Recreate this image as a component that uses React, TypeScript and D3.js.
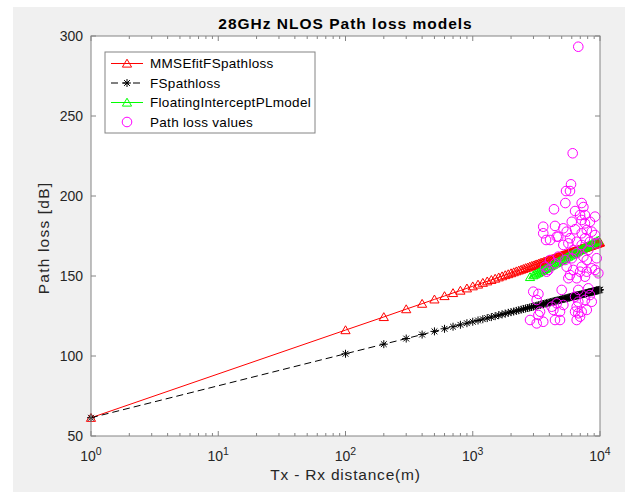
import React from "react";
import * as d3 from "d3";

// ---------- data ----------
const modelDist = [
  1, 100, 200, 300, 400, 500, 600, 700, 800, 900, 1000,
  1100, 1200, 1300, 1400, 1500, 1600, 1700, 1800, 1900, 2000,
  2100, 2200, 2300, 2400, 2500, 2600, 2700, 2800, 2900, 3000,
  3100, 3200, 3300, 3400, 3500, 3600, 3700, 3800, 3900, 4000,
  4100, 4200, 4300, 4400, 4500, 4600, 4700, 4800, 4900, 5000,
  5100, 5200, 5300, 5400, 5500, 5600, 5700, 5800, 5900, 6000,
  6100, 6200, 6300, 6400, 6500, 6600, 6700, 6800, 6900, 7000,
  7100, 7200, 7300, 7400, 7500, 7600, 7700, 7800, 7900, 8000,
  8100, 8200, 8300, 8400, 8500, 8600, 8700, 8800, 8900, 9000,
  9100, 9200, 9300, 9400, 9500, 9600, 9700, 9800, 9900, 10000,
];

const mmseFitPL = [
  61.4, 116.2, 124.4, 129.3, 132.7, 135.4, 137.5, 139.4, 140.9, 142.3, 143.6,
  144.7, 145.8, 146.7, 147.6, 148.4, 149.2, 149.9, 150.6, 151.2, 151.8,
  152.4, 153.0, 153.5, 154.0, 154.5, 155.0, 155.4, 155.9, 156.3, 156.7,
  157.1, 157.4, 157.8, 158.2, 158.5, 158.8, 159.2, 159.5, 159.8, 160.1,
  160.4, 160.7, 161.0, 161.2, 161.5, 161.8, 162.0, 162.3, 162.5, 162.8,
  163.0, 163.2, 163.4, 163.7, 163.9, 164.1, 164.3, 164.5, 164.7, 164.9,
  165.1, 165.3, 165.5, 165.7, 165.9, 166.1, 166.2, 166.4, 166.6, 166.8,
  166.9, 167.1, 167.3, 167.4, 167.6, 167.7, 167.9, 168.0, 168.2, 168.3,
  168.5, 168.6, 168.8, 168.9, 169.1, 169.2, 169.3, 169.5, 169.6, 169.7,
  169.9, 170.0, 170.1, 170.3, 170.4, 170.5, 170.6, 170.8, 170.9, 171.0,
];

const fsPL = [
  61.4, 101.4, 107.4, 110.9, 113.4, 115.4, 117.0, 118.3, 119.5, 120.5, 121.4,
  122.2, 123.0, 123.7, 124.3, 124.9, 125.5, 126.0, 126.5, 127.0, 127.4,
  127.8, 128.2, 128.6, 129.0, 129.4, 129.7, 130.0, 130.3, 130.6, 130.9,
  131.2, 131.5, 131.8, 132.0, 132.3, 132.5, 132.8, 133.0, 133.2, 133.4,
  133.7, 133.9, 134.1, 134.3, 134.5, 134.7, 134.8, 135.0, 135.2, 135.4,
  135.6, 135.7, 135.9, 136.0, 136.2, 136.4, 136.5, 136.7, 136.8, 137.0,
  137.1, 137.2, 137.4, 137.5, 137.7, 137.8, 137.9, 138.1, 138.2, 138.3,
  138.4, 138.5, 138.7, 138.8, 138.9, 139.0, 139.1, 139.2, 139.4, 139.5,
  139.6, 139.7, 139.8, 139.9, 140.0, 140.1, 140.2, 140.3, 140.4, 140.5,
  140.6, 140.7, 140.8, 140.9, 141.0, 141.0, 141.1, 141.2, 141.3, 141.4,
];

const fiDist = [
  2820, 2990, 3080, 3180, 3280, 3380, 3480, 3580, 3700, 3810, 3930,
  4050, 4170, 4300, 4430, 4570, 4700, 4850, 5000, 5150, 5310, 5470,
  5640, 5810, 6000, 6170, 6370, 6560, 6750, 6970, 7180, 7400, 7620,
  7870, 8090, 8340, 8610, 8850, 9140, 9420, 9700,
];
const fiPL = [
  149.4, 150.5, 151.0, 151.6, 152.1, 152.7, 153.3, 153.8, 154.4, 155.0, 155.5,
  156.1, 156.6, 157.2, 157.8, 158.3, 158.9, 159.5, 160.0, 160.6, 161.1, 161.7,
  162.2, 162.8, 163.4, 163.9, 164.5, 165.1, 165.6, 166.2, 166.7, 167.3, 167.9,
  168.4, 169.0, 169.5, 170.1, 170.6, 171.2, 171.8, 172.3,
];

const measDist = [
  6750, 6100, 5920, 5410, 5810, 5340, 4350, 7180, 7400, 6370, 6970, 7620,
  9140, 6000, 7180, 7620, 8340, 3580, 4430, 3580, 3770, 5150, 5470, 6370,
  7870, 7180, 8610, 9140, 4050, 4570, 5810, 5640, 6560, 7180, 7620, 8340,
  9420, 5150, 6170, 6560, 4700, 5310, 6000, 4050, 4430, 3700, 3930, 7870,
  7180, 8610, 6170, 6970, 7870, 9140, 5810, 6560, 7620, 5470, 3810, 5640,
  9700, 2990, 3280, 3180, 5000, 6750, 8090, 8340, 7620, 8610, 6750, 6370,
  4170, 4570, 5150, 4850, 4300, 3380, 3280, 6560, 7870, 6750, 7180, 6370,
  6970, 2820, 3180, 3580, 4430, 4850, 6560, 4700, 8090, 7400, 9420,
];
const measPL = [
  293.3, 226.7, 207.3, 203.1, 203.1, 195.6, 191.7, 195.6, 193.1, 190.6, 188.1, 188.1,
  187.1, 183.9, 185.0, 182.9, 183.9, 180.8, 181.3, 176.7, 172.5, 179.8, 177.7, 179.2,
  178.8, 176.7, 177.7, 175.6, 172.5, 174.6, 173.6, 170.4, 171.4, 169.4, 173.6, 171.4,
  170.4, 169.4, 166.3, 164.2, 162.1, 160.0, 161.1, 160.0, 157.9, 155.8, 153.8, 160.0,
  155.8, 154.8, 153.8, 152.7, 152.7, 153.8, 150.6, 148.6, 149.6, 155.8, 152.7, 148.6,
  151.7, 140.2, 138.8, 135.0, 141.3, 141.3, 142.3, 138.1, 135.0, 133.9, 133.9, 137.1,
  130.8, 132.9, 131.9, 127.7, 128.8, 127.7, 125.6, 130.8, 128.8, 126.7, 127.7, 127.7,
  124.6, 122.5, 120.4, 121.4, 122.5, 122.5, 122.5, 174.6, 166.3, 162.1, 161.1,
];

const yTicks = [50, 100, 150, 200, 250, 300];
const xDecades = [0, 1, 2, 3, 4];
const legendLabels = [
  "MMSEfitFSpathloss",
  "FSpathloss",
  "FloatingInterceptPLmodel",
  "Path loss values",
];
const titleText = "28GHz NLOS Path loss models";
const xLabelText = "Tx - Rx distance(m)";
const yLabelText = "Path loss [dB]";

// ---------- layout ----------
const W = 632;
const H = 492;
const L = 91;
const R = 600;
const T = 36;
const B = 436;
const FONT = "'Liberation Sans', Arial, Helvetica, sans-serif";
const AX = "#848484";
const TXT = "#262626";

const triPath = "M0,-4.3 L4.6,3.6 L-4.6,3.6 Z";
const starPath = "M-4,0 H4 M0,-4 V4 M-2.9,-2.9 L2.9,2.9 M-2.9,2.9 L2.9,-2.9";

export default function App() {
  const x = d3.scaleLog().domain([1, 1e4]).range([L, R]);
  const y = d3.scaleLinear().domain([50, 300]).range([B, T]);

  const line = d3
    .line<[number, number]>()
    .x((d) => x(d[0]))
    .y((d) => y(d[1]));

  const mmse = modelDist.map((d, i) => [d, mmseFitPL[i]] as [number, number]);
  const fs = modelDist.map((d, i) => [d, fsPL[i]] as [number, number]);
  const fi = fiDist.map((d, i) => [d, fiPL[i]] as [number, number]);
  const meas = measDist.map((d, i) => [d, measPL[i]] as [number, number]);

  const minorTicks: number[] = [];
  for (let e = 0; e < 4; e++) {
    for (let m = 2; m <= 9; m++) minorTicks.push(m * Math.pow(10, e));
  }

  const legX = 105;
  const legY = 52;
  const legW = 210;
  const legH = 81;
  const rowY = [63.5, 83, 102.5, 122];

  return (
    <svg
      width={W}
      height={H}
      style={{ position: "absolute", left: 0, top: 0, display: "block" }}
      fontFamily={FONT}
    >
      <rect x={0} y={0} width={W} height={H} fill="#ffffff" />
      <rect x={13} y={7} width={612} height={H - 7} fill="#f0f0f0" />
      <rect x={L} y={T} width={R - L} height={B - T} fill="#ffffff" />

      {/* model lines */}
      <path d={line(mmse) || ""} fill="none" stroke="#ff0000" strokeWidth={1} />
      <path
        d={line(fs) || ""}
        fill="none"
        stroke="#000000"
        strokeWidth={1}
        strokeDasharray="7,4"
      />
      <path d={line(fi) || ""} fill="none" stroke="#00ff00" strokeWidth={1} />

      {mmse.map((p, i) => (
        <path
          key={"r" + i}
          d={triPath}
          transform={`translate(${x(p[0])},${y(p[1])})`}
          fill="none"
          stroke="#ff0000"
          strokeWidth={1}
        />
      ))}
      {fs.map((p, i) => (
        <path
          key={"k" + i}
          d={starPath}
          transform={`translate(${x(p[0])},${y(p[1])})`}
          fill="none"
          stroke="#000000"
          strokeWidth={1}
        />
      ))}
      {fi.map((p, i) => (
        <path
          key={"g" + i}
          d={triPath}
          transform={`translate(${x(p[0])},${y(p[1])})`}
          fill="none"
          stroke="#00ff00"
          strokeWidth={1}
        />
      ))}
      {meas.map((p, i) => (
        <circle
          key={"m" + i}
          cx={x(p[0])}
          cy={y(p[1])}
          r={4.8}
          fill="none"
          stroke="#ff00ff"
          strokeWidth={1}
        />
      ))}

      {/* axes box */}
      <rect
        x={L}
        y={T}
        width={R - L}
        height={B - T}
        fill="none"
        stroke={AX}
        strokeWidth={1}
      />

      {/* x ticks */}
      {xDecades.map((e) => {
        const xv = x(Math.pow(10, e));
        return (
          <g key={"xt" + e}>
            <line x1={xv} x2={xv} y1={B} y2={B - 5} stroke={AX} />
            <line x1={xv} x2={xv} y1={T} y2={T + 5} stroke={AX} />
            <text
              x={xv}
              y={461}
              textAnchor="middle"
              fontSize={14}
              fill={TXT}
            >
              10
              <tspan dy={-6} fontSize={10.5}>
                {e}
              </tspan>
            </text>
          </g>
        );
      })}
      {minorTicks.map((v, i) => {
        const xv = x(v);
        return (
          <g key={"mt" + i}>
            <line x1={xv} x2={xv} y1={B} y2={B - 3} stroke={AX} />
            <line x1={xv} x2={xv} y1={T} y2={T + 3} stroke={AX} />
          </g>
        );
      })}

      {/* y ticks */}
      {yTicks.map((t) => {
        const yv = y(t);
        return (
          <g key={"yt" + t}>
            <line x1={L} x2={L + 5} y1={yv} y2={yv} stroke={AX} />
            <line x1={R} x2={R - 5} y1={yv} y2={yv} stroke={AX} />
            <text
              x={83}
              y={yv + 5}
              textAnchor="end"
              fontSize={14}
              fill={TXT}
            >
              {t}
            </text>
          </g>
        );
      })}

      {/* title and labels */}
      <text
        x={(L + R) / 2}
        y={29}
        textAnchor="middle"
        fontSize={15.5}
        fontWeight="bold"
        letterSpacing={1}
        fill="#000000"
      >
        {titleText}
      </text>
      <text
        x={(L + R) / 2}
        y={480}
        textAnchor="middle"
        fontSize={15.5}
        letterSpacing={0.8}
        fill={TXT}
      >
        {xLabelText}
      </text>
      <text
        transform={`translate(49,${(T + B) / 2 + 2}) rotate(-90)`}
        textAnchor="middle"
        fontSize={15.5}
        letterSpacing={1.2}
        fill={TXT}
      >
        {yLabelText}
      </text>

      {/* legend */}
      <rect
        x={legX}
        y={legY}
        width={legW}
        height={legH}
        fill="#ffffff"
        stroke={AX}
        strokeWidth={1}
      />
      <g>
        <line x1={111} x2={143} y1={rowY[0]} y2={rowY[0]} stroke="#ff0000" />
        <path
          d={triPath}
          transform={`translate(127,${rowY[0]})`}
          fill="none"
          stroke="#ff0000"
        />
        <line
          x1={111}
          x2={143}
          y1={rowY[1]}
          y2={rowY[1]}
          stroke="#000000"
          strokeDasharray="7,4"
        />
        <path
          d={starPath}
          transform={`translate(127,${rowY[1]})`}
          fill="none"
          stroke="#000000"
        />
        <line x1={111} x2={143} y1={rowY[2]} y2={rowY[2]} stroke="#00ff00" />
        <path
          d={triPath}
          transform={`translate(127,${rowY[2]})`}
          fill="none"
          stroke="#00ff00"
        />
        <circle
          cx={127}
          cy={rowY[3]}
          r={4.8}
          fill="none"
          stroke="#ff00ff"
        />
        {legendLabels.map((s, i) => (
          <text
            key={"lg" + i}
            x={150}
            y={rowY[i] + 4.5}
            fontSize={13.5}
            letterSpacing={0.3}
            fill="#000000"
          >
            {s}
          </text>
        ))}
      </g>
    </svg>
  );
}
